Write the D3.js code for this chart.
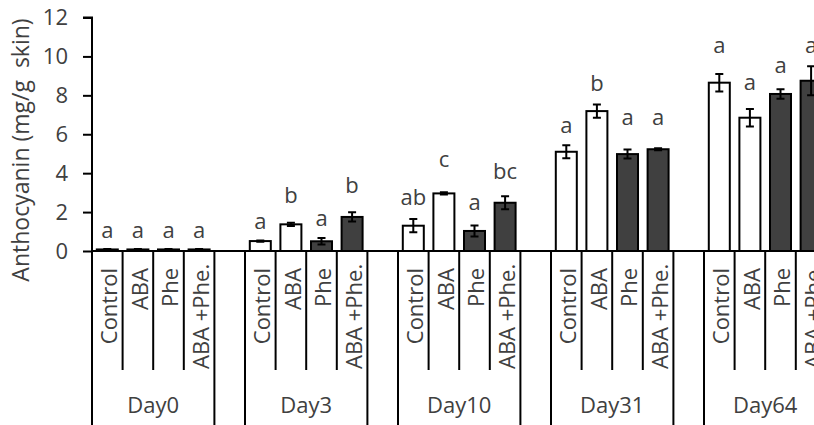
<!DOCTYPE html>
<html>
<head>
<meta charset="utf-8">
<script src="https://cdn.jsdelivr.net/npm/d3@7"></script>
<style>
  body { margin: 0; background: #fff; }
  svg { display: block; }
  text { font-family: "Open Sans", sans-serif; fill: #404040; font-size: 22px; }
</style>
</head>
<body>
<div id="chart"></div>
<script>
// data
var groups = ["Day0", "Day3", "Day10", "Day31", "Day64"];
var treatments = ["Control", "ABA", "Phe", "ABA +Phe."];

var meanDay0 = [0.08, 0.08, 0.08, 0.08];
var meanDay3 = [0.51, 1.37, 0.50, 1.75];
var meanDay10 = [1.30, 2.96, 1.03, 2.48];
var meanDay31 = [5.10, 7.19, 4.98, 5.23];
var meanDay64 = [8.65, 6.85, 8.07, 8.75];

var errDay0 = [0.02, 0.02, 0.02, 0.02];
var errDay3 = [0.03, 0.08, 0.17, 0.24];
var errDay10 = [0.34, 0.06, 0.28, 0.34];
var errDay31 = [0.33, 0.34, 0.23, 0.05];
var errDay64 = [0.45, 0.45, 0.24, 0.75];

var lettersDay0 = ["a", "a", "a", "a"];
var lettersDay3 = ["a", "b", "a", "b"];
var lettersDay10 = ["ab", "c", "a", "bc"];
var lettersDay31 = ["a", "b", "a", "a"];
var lettersDay64 = ["a", "a", "a", "a"];

// height (in mg/g) where each letter sits
var letterAtDay0 = [0.67, 0.67, 0.67, 0.67];
var letterAtDay3 = [1.13, 2.47, 1.28, 2.98];
var letterAtDay10 = [2.36, 4.32, 2.11, 3.70];
var letterAtDay31 = [6.06, 8.22, 6.47, 6.47];
var letterAtDay64 = [10.17, 8.27, 9.15, 10.17];

var yTicks = [0, 2, 4, 6, 8, 10, 12];

var means = [meanDay0, meanDay3, meanDay10, meanDay31, meanDay64];
var errs = [errDay0, errDay3, errDay10, errDay31, errDay64];
var letters = [lettersDay0, lettersDay3, lettersDay10, lettersDay31, lettersDay64];
var letterAt = [letterAtDay0, letterAtDay3, letterAtDay10, letterAtDay31, letterAtDay64];

var width = 814, height = 425;
var left = 92, slotW = 30.6;
var y0 = 251, yTop = 17.5;
var labelTop = 268, labelBottom = 369;

// slots: 4 treatments per group, one empty slot between groups
var slots = [];
var data = [];
groups.forEach(function (g, gi) {
    treatments.forEach(function (t, ti) {
        var id = g + "|" + t;
        slots.push(id);
        data.push({ id: id, group: g, name: t, ti: ti, mean: means[gi][ti], err: errs[gi][ti],
                    letter: letters[gi][ti], at: letterAt[gi][ti] });
    });
    if (gi < groups.length - 1) slots.push("gap" + gi);
});

var x = d3.scaleBand().domain(slots).range([left, left + slots.length * slotW]).padding(0);
var y = d3.scaleLinear().domain([0, 12]).range([y0, yTop]);
var barW = 21;

var svg = d3.select("#chart").append("svg")
    .attr("width", width)
    .attr("height", height);

// y axis
var yAxis = d3.axisLeft(y).tickValues(yTicks).tickSize(9).tickPadding(15).tickFormat(d3.format("d"));
var ya = svg.append("g").attr("transform", "translate(" + left + ",0)").call(yAxis);
ya.select(".domain").attr("stroke", "#000").attr("stroke-width", 2).attr("d", "M-9," + yTop + "H0V" + y0);
ya.selectAll(".tick line").attr("stroke", "#000").attr("stroke-width", 2);
ya.selectAll(".tick text").style("font-size", "22px").style("font-family", "Open Sans").attr("fill", "#404040");

svg.append("text")
    .attr("transform", "translate(21,150) rotate(-90)")
    .attr("text-anchor", "middle")
    .attr("dy", "0.35em")
    .style("font-size", "23px")
    .style("white-space", "pre")
    .text("Anthocyanin (mg/g  skin)");

// bars
var bars = svg.append("g").selectAll("g").data(data).enter().append("g");

bars.append("rect")
    .attr("x", function (d) { return x(d.id) + (x.bandwidth() - barW) / 2; })
    .attr("y", function (d) { return y(d.mean); })
    .attr("width", barW)
    .attr("height", function (d) { return y0 - y(d.mean); })
    .attr("fill", function (d) { return d.ti < 2 ? "#fff" : "#404040"; })
    .attr("stroke", "#000")
    .attr("stroke-width", 2);

// error bars
bars.append("path")
    .attr("d", function (d) {
        var cx = x(d.id) + x.bandwidth() / 2;
        var hi = y(d.mean + d.err), lo = y(d.mean - d.err);
        return "M" + (cx - 4) + "," + hi + "H" + (cx + 4) +
               "M" + cx + "," + hi + "V" + lo +
               "M" + (cx - 4) + "," + lo + "H" + (cx + 4);
    })
    .attr("fill", "none")
    .attr("stroke", "#000")
    .attr("stroke-width", 2);

bars.append("text")
    .attr("x", function (d) { return x(d.id) + x.bandwidth() / 2; })
    .attr("y", function (d) { return y(d.at); })
    .attr("text-anchor", "middle")
    .text(function (d) { return d.letter; });

// x axis line
svg.append("line")
    .attr("x1", left).attr("x2", x.range()[1])
    .attr("y1", y0).attr("y2", y0)
    .attr("stroke", "#000").attr("stroke-width", 2);

// category separators: long at group edges, short inside groups
var edges = d3.range(slots.length + 1).map(function (i) {
    var prev = slots[i - 1], next = slots[i];
    var long = !prev || !next || prev.indexOf("gap") === 0 || next.indexOf("gap") === 0;
    return { x: left + i * x.step(), long: long };
});
svg.append("g").selectAll("line").data(edges).enter().append("line")
    .attr("x1", function (d) { return d.x; })
    .attr("x2", function (d) { return d.x; })
    .attr("y1", y0)
    .attr("y2", function (d) { return d.long ? height : 370; })
    .attr("stroke", "#000")
    .attr("stroke-width", 2);

// treatment labels, top-aligned under the axis; long ones pushed up to fit
svg.append("g").selectAll("text").data(data).enter().append("text")
    .attr("text-anchor", "end")
    .attr("dy", "0.35em")
    .text(function (d) { return d.name; })
    .attr("transform", function (d) {
        var len = this.getComputedTextLength();
        var top = Math.min(labelTop, labelBottom - len);
        return "translate(" + (x(d.id) + x.bandwidth() / 2 + 2) + "," + top + ") rotate(-90)";
    });

// group labels
svg.append("g").selectAll("text").data(groups).enter().append("text")
    .attr("x", function (g) { return x(g + "|" + treatments[0]) + 2 * x.step(); })
    .attr("y", 405)
    .attr("text-anchor", "middle")
    .attr("dy", "0.35em")
    .text(function (g) { return g; });
</script>
</body>
</html>
